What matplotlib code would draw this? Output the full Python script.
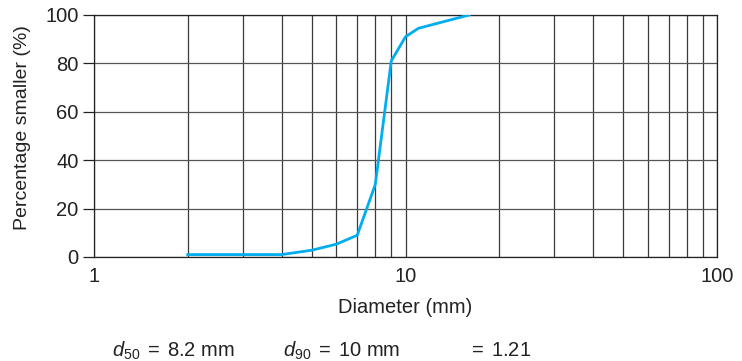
import matplotlib
matplotlib.use("Agg")
import matplotlib.pyplot as plt
from matplotlib.ticker import FixedLocator, NullFormatter

plt.rcParams['font.family'] = ['Liberation Sans', 'DejaVu Sans']
plt.rcParams['mathtext.fontset'] = 'custom'
plt.rcParams['mathtext.rm'] = 'Liberation Sans'
plt.rcParams['mathtext.it'] = 'Liberation Sans:italic'

# grain size distribution
diameter = [2, 3, 4, 5, 6, 7, 8, 9, 10, 11, 16]
pct_smaller = [1, 1, 1, 2.8, 5.3, 9, 30, 81, 91, 94.5, 100]

y_ticks = [0, 20, 40, 60, 80, 100]
x_major = [1, 10, 100]
x_minor = [2, 3, 4, 5, 6, 7, 8, 9, 20, 30, 40, 50, 60, 70, 80, 90]

fig = plt.figure(figsize=(7.42, 3.61), dpi=100)
ax = fig.add_axes([94 / 742, 1 - 257 / 361, 623 / 742, 242 / 361])

ax.set_xscale('log')
ax.set_xlim(1, 100)
ax.set_ylim(0, 100)

ax.xaxis.set_major_locator(FixedLocator(x_major))
ax.xaxis.set_minor_locator(FixedLocator(x_minor))
ax.xaxis.set_minor_formatter(NullFormatter())
ax.set_xticklabels([str(v) for v in x_major])
ax.set_yticks(y_ticks)

ax.grid(True, which='both', axis='x', color='#3a3a3a', lw=0.9)
ax.grid(True, which='major', axis='y', color='#555555', lw=0.9)
ax.set_axisbelow(True)

ax.plot(diameter, pct_smaller, color='#00aeef', lw=2, zorder=3)

for s in ax.spines.values():
    s.set_color('#222222')
    s.set_linewidth(0.9)

ax.tick_params(axis='x', which='both', length=0, labelsize=14.5, pad=7, colors='#222222')
ax.tick_params(axis='y', length=8, width=0.9, labelsize=14.5, pad=3, colors='#222222')

ax.set_xlabel('Diameter (mm)', fontsize=14.5, color='#222222', labelpad=9)
ax.set_ylabel('Percentage smaller (%)', fontsize=14, color='#222222')
ax.yaxis.set_label_coords(-0.101, 0.533)

fig.text(112 / 742, 1 - 351 / 361, r'$d_{50}\;=\;8.2$ mm', fontsize=14.5,
         color='#222222', va='center', ha='left')
fig.text(283 / 742, 1 - 351 / 361, r'$d_{90}\;=\;10$ mm', fontsize=14.5,
         color='#222222', va='center', ha='left')
fig.text(468 / 742, 1 - 351 / 361, r'$=\;1.21$', fontsize=14.5,
         color='#222222', va='center', ha='left')

fig.savefig('out.png', dpi=100)
